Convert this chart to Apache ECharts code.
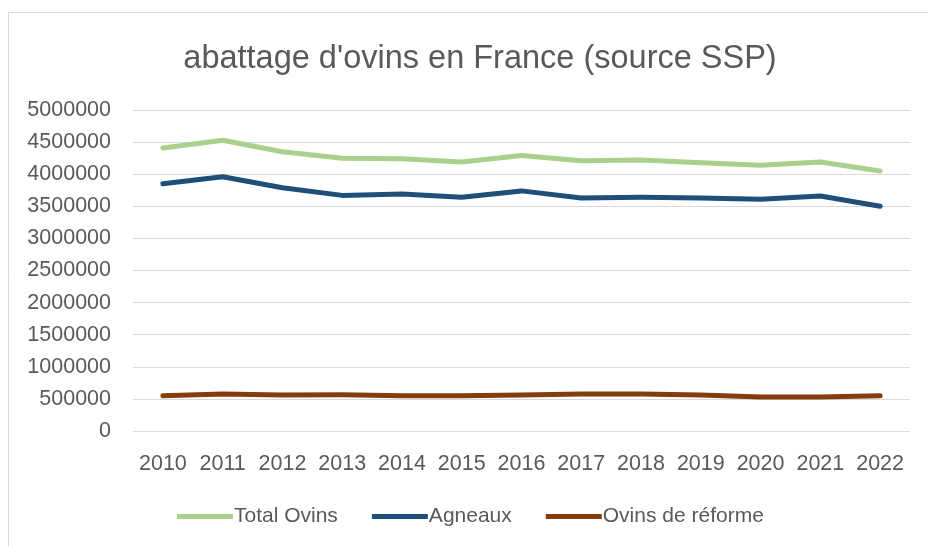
<!DOCTYPE html>
<html>
<head>
<meta charset="utf-8">
<script src="https://cdn.jsdelivr.net/npm/echarts@6/dist/echarts.min.js"></script>
<style>
  html, body { margin: 0; padding: 0; background: #fff; }
  #chart { width: 928px; height: 546px; }
</style>
</head>
<body>
<div id="chart"></div>
<script>
var years = ['2010', '2011', '2012', '2013', '2014', '2015', '2016', '2017', '2018', '2019', '2020', '2021', '2022'];
var totalOvins = [4408000, 4530000, 4350000, 4250000, 4240000, 4190000, 4290000, 4210000, 4220000, 4180000, 4140000, 4190000, 4050000];
var agneaux = [3850000, 3960000, 3790000, 3670000, 3690000, 3640000, 3740000, 3630000, 3640000, 3630000, 3610000, 3660000, 3500000];
var reforme = [548000, 575000, 560000, 565000, 550000, 550000, 560000, 575000, 575000, 560000, 530000, 530000, 550000];

var textColor = '#595959';
var fontFam = '"Liberation Sans", Arial, sans-serif';

var chart = echarts.init(document.getElementById('chart'));

var option = {
    backgroundColor: '#fff',
    animation: false,
    title: {
        text: "abattage d'ovins en France (source SSP)",
        left: 475,
        top: 38,
        textAlign: 'center',
        textStyle: { color: textColor, fontSize: 32.5, fontWeight: 'normal', fontFamily: fontFam }
    },
    graphic: [{
        type: 'rect',
        shape: { x: 8.5, y: 12.5, width: 930, height: 560 },
        style: { fill: 'none', stroke: '#d9d9d9', lineWidth: 1 },
        silent: true
    }],
    legend: {
        bottom: 14,
        left: 172,
        itemWidth: 56,
        itemHeight: 5,
        itemGap: 34,
        icon: 'rect',
        textStyle: { color: textColor, fontSize: 21, fontFamily: fontFam, padding: [0, 0, 0, -4] },
        data: ['Total Ovins', 'Agneaux', 'Ovins de réforme']
    },
    grid: { left: 133, right: 18, top: 110, bottom: 115 },
    xAxis: {
        type: 'category',
        data: years,
        axisLine: { show: false },
        axisTick: { show: false },
        axisLabel: { color: textColor, fontSize: 21.5, fontFamily: fontFam, margin: 22, interval: 0 }
    },
    yAxis: {
        type: 'value',
        min: 0,
        max: 5000000,
        interval: 500000,
        axisLine: { show: false },
        axisTick: { show: false },
        splitLine: { lineStyle: { color: '#d9d9d9', width: 1 } },
        axisLabel: { color: textColor, fontSize: 21.5, fontFamily: fontFam, margin: 22,
            formatter: function (v) { return String(v); } }
    },
    series: [
        { name: 'Total Ovins', type: 'line', data: totalOvins, symbol: 'none', color: '#a9d18e',
          lineStyle: { width: 5, cap: 'round', join: 'round' } },
        { name: 'Agneaux', type: 'line', data: agneaux, symbol: 'none', color: '#1f4e79',
          lineStyle: { width: 5, cap: 'round', join: 'round' } },
        { name: 'Ovins de réforme', type: 'line', data: reforme, symbol: 'none', color: '#843c0c',
          lineStyle: { width: 5, cap: 'round', join: 'round' } }
    ]
};

chart.setOption(option);
</script>
</body>
</html>
